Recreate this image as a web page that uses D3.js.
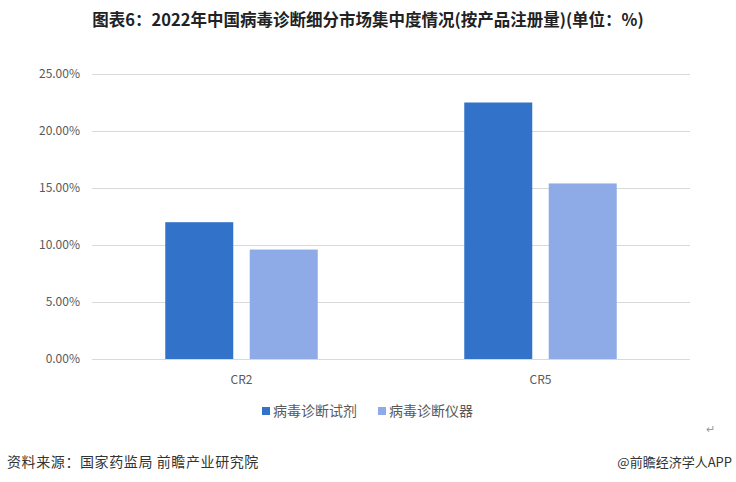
<!DOCTYPE html>
<html><head><meta charset="utf-8">
<script src="https://cdn.jsdelivr.net/npm/d3@7"></script>
<style>body{margin:0;background:#fff}svg{display:block}</style>
</head><body>
<script>
const categories = ["CR2", "CR5"];
const seriesNames = ["病毒诊断试剂", "病毒诊断仪器"];
const reagentValues = [12.0, 22.5];
const instrumentValues = [9.6, 15.4];
const yTicks = [0, 5, 10, 15, 20, 25];
const colors = ["#3273C9", "#8EABE8"];

(function () {
const W = 736, H = 482;
const svg = d3.select("body").append("svg").attr("width", W).attr("height", H);
const font = "'Noto Sans CJK SC','Microsoft YaHei',sans-serif";

const pl = 92, pr = 690, pt = 74, pb = 359;
const y = d3.scaleLinear().domain([0, 25]).range([pb, pt]);
const x0 = d3.scaleBand().domain(categories).range([pl, pr]).paddingInner(0.49).paddingOuter(0.245);
const x1 = d3.scaleBand().domain(seriesNames).range([0, x0.bandwidth()]).paddingInner(0.195).paddingOuter(0);

svg.append("text").attr("x", 368).attr("y", 26).attr("text-anchor", "middle")
  .attr("font-family", font).attr("font-weight", "bold").attr("font-size", 16.5).attr("fill", "#222")
  .text("图表6：2022年中国病毒诊断细分市场集中度情况(按产品注册量)(单位：%)");

svg.append("g").selectAll("line").data(yTicks).join("line")
  .attr("x1", pl).attr("x2", pr).attr("y1", d => y(d) + 0.5).attr("y2", d => y(d) + 0.5)
  .attr("stroke", "#D9D9D9").attr("stroke-width", 1);

const yAxis = d3.axisLeft(y).tickValues(yTicks).tickSize(0).tickPadding(12).tickFormat(d => d.toFixed(2) + "%");
const ga = svg.append("g").attr("transform", `translate(${pl},0)`).call(yAxis);
ga.select(".domain").remove();
ga.selectAll("text").attr("font-family", font).attr("font-size", 12).attr("fill", "#595959");

const data = categories.map((c, i) => ({cat: c, vals: [reagentValues[i], instrumentValues[i]]}));
const groups = svg.append("g").selectAll("g").data(data).join("g")
  .attr("transform", d => `translate(${x0(d.cat)},0)`);
groups.selectAll("rect").data(d => d.vals.map((v, j) => ({s: seriesNames[j], v, j}))).join("rect")
  .attr("x", d => x1(d.s)).attr("width", x1.bandwidth())
  .attr("y", d => y(d.v)).attr("height", d => y(0) - y(d.v))
  .attr("fill", d => colors[d.j]);

const xAxis = d3.axisBottom(x0).tickSize(0).tickPadding(16);
const gx = svg.append("g").attr("transform", `translate(0,${pb})`).call(xAxis);
gx.select(".domain").remove();
gx.selectAll("text").attr("font-family", font).attr("font-size", 12).attr("fill", "#595959");

const legendX = [262, 378];
const lg = svg.append("g").selectAll("g").data(seriesNames).join("g")
  .attr("transform", (d, i) => `translate(${legendX[i]},411)`);
lg.append("rect").attr("x", 0).attr("y", -4).attr("width", 8).attr("height", 8).attr("fill", (d, i) => colors[i]);
lg.append("text").attr("x", 11).attr("y", 5).attr("font-family", font).attr("font-size", 14).attr("fill", "#595959").text(d => d);

svg.append("text").attr("x", 706).attr("y", 433).attr("font-family", font).attr("font-size", 11).attr("fill", "#999").text("↵");

svg.append("text").attr("x", 7).attr("y", 467).attr("font-family", font).attr("font-size", 14).attr("fill", "#333")
  .attr("letter-spacing", 0.6)
  .text("资料来源：国家药监局 前瞻产业研究院");
svg.append("text").attr("x", 732).attr("y", 467).attr("text-anchor", "end").attr("font-family", font).attr("font-size", 13).attr("fill", "#333")
  .text("@前瞻经济学人APP");
})();
</script>
</body></html>
